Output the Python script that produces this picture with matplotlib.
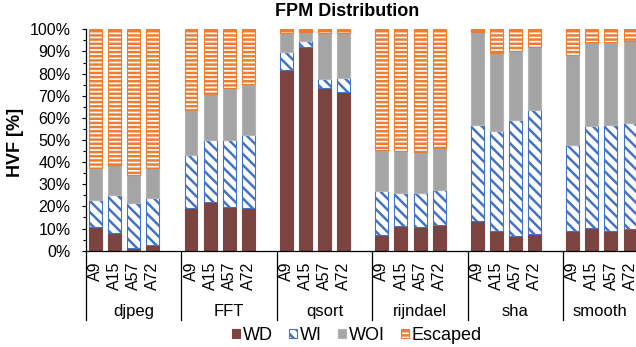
import numpy as np
import matplotlib
matplotlib.use('Agg')
import matplotlib.pyplot as plt
from matplotlib.patches import Patch
from matplotlib.ticker import MultipleLocator, PercentFormatter

benchmarks = ['djpeg', 'FFT', 'qsort', 'rijndael', 'sha', 'smooth']
cores = ['A9', 'A15', 'A57', 'A72']

# share of faults per class [%], order: benchmark x core
wd = [10.6, 8.0, 1.1, 2.4,
      19.2, 21.9, 19.6, 19.2,
      81.4, 91.8, 73.3, 71.7,
      7.2, 11.0, 10.7, 11.8,
      13.4, 8.8, 6.8, 7.6,
      8.9, 10.3, 8.9, 9.8]
wi = [12.4, 17.2, 20.3, 21.6,
      24.1, 27.9, 30.2, 33.1,
      8.2, 2.9, 4.3, 6.4,
      19.8, 15.0, 15.3, 15.5,
      43.4, 45.3, 52.3, 55.8,
      39.0, 46.2, 48.0, 48.0]
woi = [14.2, 13.6, 12.9, 13.3,
       20.4, 21.2, 23.8, 22.9,
       8.6, 4.2, 20.9, 20.4,
       18.3, 18.9, 18.5, 19.1,
       41.8, 35.3, 31.2, 28.4,
       40.3, 37.6, 37.2, 36.9]
escaped = [62.8, 61.2, 65.7, 62.7,
           36.3, 29.0, 26.4, 24.8,
           1.8, 1.1, 1.5, 1.5,
           54.7, 55.1, 55.5, 53.6,
           1.4, 10.6, 9.7, 8.2,
           11.8, 5.9, 5.9, 5.3]

plt.rcParams['font.family'] = ['Liberation Sans', 'DejaVu Sans']
plt.rcParams['hatch.linewidth'] = 1.8

W, H = 636, 347
fig = plt.figure(figsize=(W / 100, H / 100), dpi=100)
ax = fig.add_axes([86 / W, (H - 250.7) / H, (W - 86) / W, 221.4 / H])

slot = 5  # 4 bars + one empty slot per benchmark
x = np.array([g * slot + k + 0.5 for g in range(len(benchmarks)) for k in range(len(cores))])
width = 0.68
xmax = (W - 86) / 19.09

series = [
    ('WD', wd, dict(facecolor='#7B4441', edgecolor='#7B4441')),
    ('WI', wi, dict(facecolor='white', edgecolor='#4472C4', hatch='\\\\\\')),
    ('WOI', woi, dict(facecolor='#A5A5A5', edgecolor='#B4B4B4')),
    ('Escaped', escaped, dict(facecolor='white', edgecolor='#ED7D31', hatch='----')),
]

bottom = np.zeros(len(x))
handles = []
for name, vals, style in series:
    vals = np.array(vals)
    ax.bar(x, vals, width, bottom=bottom, linewidth=0.8, **style)
    bottom += vals
    handles.append(Patch(label=name, linewidth=0.8, **style))

ax.set_xlim(0, xmax)
ax.set_ylim(0, 100)
ax.yaxis.set_major_locator(MultipleLocator(10))
ax.yaxis.set_minor_locator(MultipleLocator(5))
ax.yaxis.set_major_formatter(PercentFormatter(decimals=0))
ax.tick_params(axis='y', which='major', length=3, width=0.8, pad=8, labelsize=11.5)
ax.tick_params(axis='y', which='minor', length=2, width=0.8)

ax.set_xticks(x)
ax.set_xticklabels(cores * len(benchmarks), rotation=90, fontsize=11.5)
ax.tick_params(axis='x', length=0, pad=8)

for s in ['top', 'right']:
    ax.spines[s].set_visible(False)
ax.spines['left'].set_linewidth(0.9)
ax.spines['bottom'].set_linewidth(0.9)

# category separators and benchmark names under the axis
trans = ax.get_xaxis_transform()
for g, name in enumerate(benchmarks):
    start = g * slot
    end = min(start + slot, xmax)  # label centred on the visible part
    ax.plot([start, start], [0, -0.313], transform=trans, color='black',
            linewidth=0.9, clip_on=False)
    ax.text((start + end) / 2, -0.2755, name, transform=trans, ha='center',
            va='center', fontsize=12)

fig.text(347 / W, 1 - 12 / H, 'FPM Distribution', ha='center', va='center',
         fontsize=13, fontweight='bold')
fig.text(15 / W, 1 - 142 / H, 'HVF [%]', ha='center', va='center', rotation=90,
         fontsize=13, fontweight='bold')

fig.legend(handles=handles, loc='center', bbox_to_anchor=(357 / W, 1 - 335.5 / H),
           ncol=4, frameon=False, fontsize=13, handlelength=0.45, handleheight=0.45,
           handletextpad=0.15, columnspacing=0.9, borderpad=0, borderaxespad=0)

fig.savefig('out.png', dpi=100)
